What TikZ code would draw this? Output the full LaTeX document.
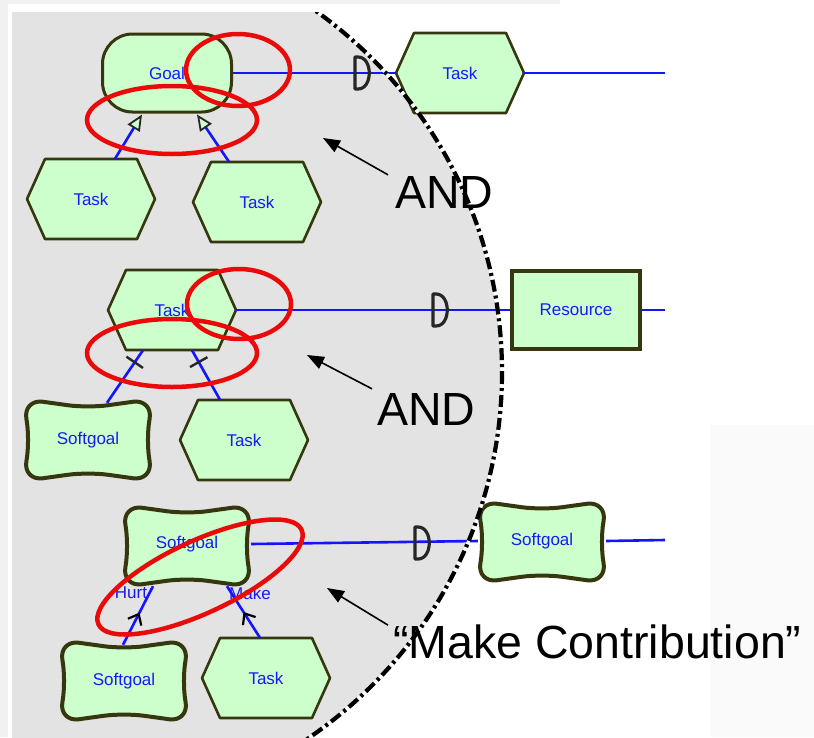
\documentclass[tikz,border=0pt]{standalone}
\usepackage{fontspec}
\setmainfont{Liberation Sans}
\usetikzlibrary{arrows.meta,calc,decorations.markings}
\definecolor{nodefill}{RGB}{204,255,204}
\definecolor{nodeline}{RGB}{55,55,15}
\definecolor{linkblue}{RGB}{20,20,255}
\definecolor{labblue}{RGB}{25,25,245}
\definecolor{bggray}{RGB}{227,227,227}
\definecolor{ringred}{RGB}{235,10,10}
\definecolor{stripgray}{RGB}{241,241,241}
\definecolor{faintgray}{RGB}{250,250,250}
\newcommand{\hexshape}[2]{\filldraw[hexdraw] ({#1-64},#2) -- ({#1-46},{#2-40}) -- ({#1+46},{#2-40}) -- ({#1+64},#2) -- ({#1+46},{#2+40}) -- ({#1-46},{#2+40}) -- cycle;}
\newcommand{\sgshape}[2]{\filldraw[sgdraw] ({#1-65},{#2-41}) -- (#1,{#2-32}) -- ({#1+65},{#2-41}) -- ({#1+58},#2) -- ({#1+65},{#2+41}) -- (#1,{#2+32}) -- ({#1-65},{#2+41}) -- ({#1-58},#2) -- cycle;}
\newcommand{\depD}[2]{\draw[depsym] (#1,{#2-16}) -- (#1,{#2+16}) -- ({#1+3},{#2+16}) .. controls ({#1+18},{#2+16}) and ({#1+18},{#2-16}) .. ({#1+3},{#2-16}) -- cycle;}
\tikzset{
  hexdraw/.style={fill=nodefill, draw=nodeline, line width=2.6pt, line join=round},
  sgdraw/.style={fill=nodefill, draw=nodeline, line width=4pt, rounded corners=20pt},
  depsym/.style={draw=black!85, line width=3.2pt, line join=round},
  lbl/.style={font=\fontsize{17}{19}\selectfont, text=labblue, inner sep=0pt},
  boxnode/.style={lbl, minimum width=128pt, minimum height=80pt},
  link/.style={draw=linkblue, line width=2.6pt},
  meansend/.style={-{Triangle[length=16pt,width=14pt,fill=nodefill,color=black!85,line width=1.8pt]}},
  tickmark/.style={fill=black!85, inner sep=0pt, minimum width=2.4pt, minimum height=20pt, sloped},
  contrib/.style={postaction={decorate}, decoration={markings, mark=at position #1 with {\arrow[black, line width=2.2pt]{Straight Barb[length=9pt,width=15pt]}}}},
  ring/.style={draw=ringred, line width=4.5pt},
  annot/.style={draw=black, line width=1.6pt, -{Triangle[length=17pt,width=13pt]}},
  bigtext/.style={font=\fontsize{46.5}{50}\selectfont, inner sep=0pt, anchor=base west}
}
\begin{document}
\begin{tikzpicture}[x=1pt,y=-1pt]
\useasboundingbox (0,0) rectangle (814,737);
\fill[white] (0,0) rectangle (814,737);
\fill[stripgray] (0,0) rectangle (8,737);
\fill[stripgray] (0,0) rectangle (560,4);
\fill[faintgray] (710,425) rectangle (814,737);
% gray region
\begin{scope}
  \clip (12,12) rectangle (814,737);
  \fill[bggray] (59,372) circle [radius=443];
\end{scope}

% ---------- section 1 ----------
\hexshape{460}{73}
\hexshape{91}{199}
\hexshape{257}{202}
\node[lbl, draw=nodeline, fill=nodefill, line width=3pt, rounded corners=30pt, minimum width=129pt, minimum height=78pt] (goal) at (167,73) {Goal};
\node[boxnode] (tr1) at (460,73) {Task};
\node[boxnode] (t1) at (91,199) {Task};
\node[boxnode] (t2) at (257,202) {Task};
\coordinate (end1) at (665,73);
\draw[link] (goal.east) -- (tr1.west);
\draw[link] (tr1.east) -- (end1);
\draw[link, meansend] ($(t1.north)+(24,0)$) -- ($(goal.south)+(-25,1)$);
\draw[link, meansend] ($(t2.north)+(-28,0)$) -- ($(goal.south)+(30,1)$);
\depD{355}{73}

% ---------- section 2 ----------
\hexshape{172}{310}
\hexshape{244}{440}
\sgshape{88}{440}
\node[boxnode] (t3) at (172,310) {Task};
\node[boxnode] (t4) at (244,440) {Task};
\node[boxnode] (s2) at (88,440) {Softgoal};
\node[lbl, draw=nodeline, fill=nodefill, line width=3.5pt, minimum width=128pt, minimum height=78pt] (res) at (576,310) {Resource};
\coordinate (end2) at (665,310);
\draw[link] (t3.east) -- (res.west);
\draw[link] (res.east) -- (end2);
\draw[link] ($(s2.north)+(19,3)$) -- node[tickmark, pos=0.77] (k1) {} ($(t3.south)+(-29,0)$);
\draw[link] ($(t4.north)+(-24,0)$) -- node[tickmark, pos=0.76] (k2) {} ($(t3.south)+(20,0)$);
\depD{433}{310}

% ---------- section 3 ----------
\sgshape{187}{546}
\sgshape{542}{542}
\sgshape{124}{681}
\hexshape{266}{678}
\node[boxnode] (s3) at (187,544) {Softgoal};
\node[boxnode] (s5) at (542,541) {Softgoal};
\node[boxnode] (s4) at (124,681) {Softgoal};
\node[boxnode] (t6) at (266,678) {Task};
\coordinate (end3) at (665,540);
\draw[link] (s3.east) -- (s5.west);
\draw[link] (s5.east) -- (end3);
\draw[link, contrib=0.55] ($(s4.north)+(-1,4)$) -- ($(s3.south)+(-34,2)$);
\draw[link, contrib=0.5] ($(t6.north)+(-6,0)$) -- ($(s3.south)+(40,2)$);
\node[lbl] (hurt) at (131,593) {Hurt};
\node[lbl] (make) at (250,593) {Make};
\depD{415}{543}

% dashed boundary
\begin{scope}
  \clip (0,12) rectangle (814,737);
  \draw[white, line width=3pt] (59,372) circle [radius=443];
  \draw[black, line width=4.2pt, dash pattern=on 12pt off 4pt on 3pt off 4pt] (59,372) circle [radius=443];
\end{scope}

% red rings
\draw[ring] (238,70) ellipse [x radius=52, y radius=36];
\draw[ring] (172,120) ellipse [x radius=85, y radius=34];
\draw[ring] (239,304) ellipse [x radius=52, y radius=35];
\draw[ring] (172,353) ellipse [x radius=85, y radius=34];
\draw[ring, rotate around={25:(200,577)}] (200,577) ellipse [x radius=112, y radius=36];

% annotations
\node[bigtext] (and1) at (395,208) {AND};
\node[bigtext] (and2) at (377,425) {AND};
\node[bigtext] (mc) at (393,658) {“Make Contribution”};
\coordinate (a1t) at (323,138);
\coordinate (a2t) at (307,355);
\coordinate (a3t) at (327,588);
\draw[annot] ($(and1.north west)+(-7,-1)$) -- (a1t);
\draw[annot] ($(and2.north west)+(-5,-4)$) -- (a2t);
\draw[annot] ($(mc.north west)+(-5,1)$) -- (a3t);
\end{tikzpicture}
\end{document}
